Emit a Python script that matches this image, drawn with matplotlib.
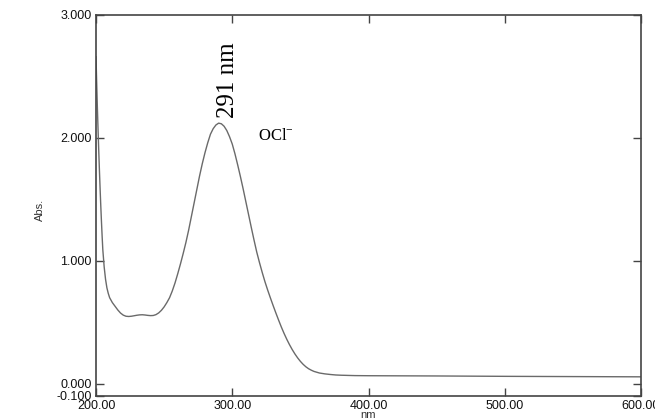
import matplotlib
matplotlib.use("Agg")
import matplotlib.pyplot as plt

wavelength = [200, 200.5, 201, 201.5, 202, 202.5, 203, 203.5, 204, 204.5, 205, 206, 207, 208,
              209, 210, 212, 214, 216, 218, 220, 222, 224, 226, 228, 230, 232, 234, 236, 238,
              240, 242, 244, 246, 248, 250, 252, 254, 256, 258, 260, 262, 264, 266, 268, 270,
              272, 274, 276, 278, 280, 282, 284, 286, 288, 290, 292, 294, 296, 298, 300, 302,
              304, 306, 308, 310, 312, 314, 316, 318, 320, 322, 324, 326, 328, 330, 332, 334,
              336, 338, 340, 342, 344, 346, 348, 350, 352, 354, 356, 358, 360, 364, 368, 372,
              376, 380, 390, 400, 450, 500, 550, 600]
absorbance = [2.66, 2.45, 2.25, 2.07, 1.90, 1.74, 1.59, 1.45, 1.32, 1.20, 1.09, 0.95, 0.85, 0.78,
              0.735, 0.70, 0.66, 0.63, 0.60, 0.575, 0.558, 0.549, 0.547, 0.549, 0.553, 0.557,
              0.560, 0.561, 0.559, 0.556, 0.554, 0.555, 0.562, 0.576, 0.597, 0.625, 0.66, 0.70,
              0.755, 0.82, 0.895, 0.975, 1.06, 1.15, 1.25, 1.36, 1.47, 1.58, 1.69, 1.79, 1.88,
              1.96, 2.03, 2.075, 2.105, 2.12, 2.115, 2.095, 2.06, 2.01, 1.95, 1.87, 1.78, 1.685,
              1.585, 1.48, 1.375, 1.27, 1.168, 1.07, 0.985, 0.905, 0.83, 0.762, 0.698, 0.636,
              0.576, 0.518, 0.462, 0.41, 0.362, 0.318, 0.278, 0.242, 0.21, 0.182, 0.158, 0.138,
              0.122, 0.11, 0.10, 0.087, 0.080, 0.075, 0.071, 0.069, 0.066, 0.065, 0.063, 0.060,
              0.058, 0.056]

xticks = [200, 300, 400, 500, 600]
xticklabels = ["200.00", "300.00", "400.00", "500.00", "600.00"]
yticks = [-0.1, 0.0, 1.0, 2.0, 3.0]
yticklabels = ["-0.100", "0.000", "1.000", "2.000", "3.000"]

fig = plt.figure(figsize=(6.55, 4.18), dpi=100)
ax = fig.add_axes([96/655, 1-396/418, (641-96)/655, (396-15)/418])
ax.plot(wavelength, absorbance, color="#6a6a6a", lw=1.0)
ax.set_xlim(200, 600)
ax.set_ylim(-0.1, 3.0)
ax.set_xticks(xticks)
ax.set_xticklabels(xticklabels, fontsize=9, family="Liberation Sans", color="#111111")
ax.set_yticks(yticks)
ax.set_yticklabels(yticklabels, fontsize=9, family="Liberation Sans", color="#111111")
ax.tick_params(direction="in", length=6, width=1.0, color="#444444", top=True, right=True,
               pad=3)
for s in ax.spines.values():
    s.set_color("#444444")
    s.set_linewidth(1.2)

ax.text(297, 2.16, "291 nm", rotation=90, ha="center", va="bottom",
        fontsize=18, family="Liberation Serif")
ax.text(319, 1.95, "OCl$^{\\mathregular{-}}$", ha="left", va="bottom",
        fontsize=12, family="Liberation Serif")

fig.text(40/655, 1-210/418, "Abs.", rotation=90, ha="center", va="center",
         fontsize=8, family="Liberation Sans", color="#333333")
fig.text(368/655, 1-410/418, "nm", ha="center", va="top",
         fontsize=8, family="Liberation Sans", color="#333333")

fig.savefig("out.png", dpi=100)
